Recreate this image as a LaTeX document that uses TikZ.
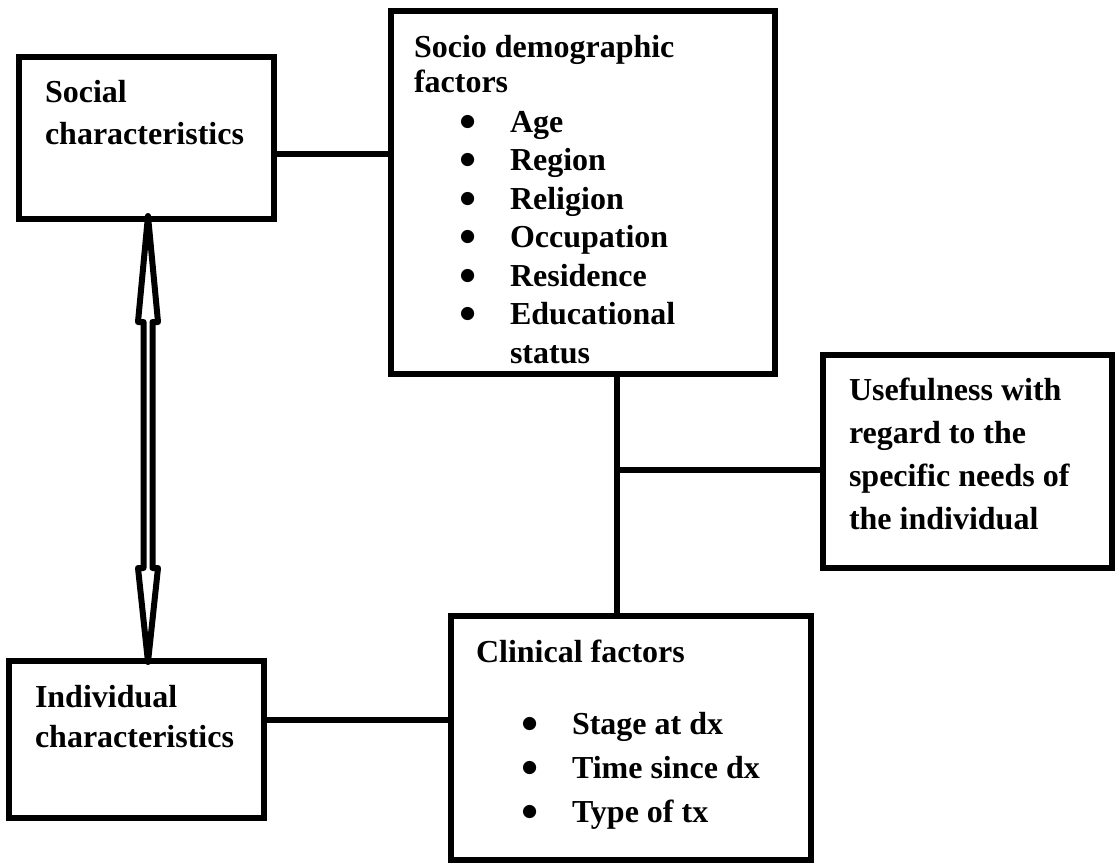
\documentclass[tikz,border=0pt]{standalone}
\usepackage{fontspec}
\setmainfont{Liberation Serif}
\newfontfamily\dotfont{DejaVu Sans}
\usetikzlibrary{positioning, calc}

% bullet item: bullet hung in, text at a fixed indent
\newcommand{\itm}[1]{\makebox[72pt][l]{\hspace{34.5pt}\raisebox{4.5pt}{\dotfont\fontsize{13}{13}\selectfont ●}}#1}
% continuation line of an item: same indent, no bullet
\newcommand{\itmcont}[1]{\makebox[72pt][l]{}#1}

\begin{document}
\begin{tikzpicture}[
            x = 0.75pt, y = -0.75pt, % one unit = one pixel of the sketch
            line width = 4.5pt, % heavy outlines
        ]
\tikzstyle{box}=[
            shape = rectangle,
            draw = black,
            fill = white,
            inner sep = 0pt,
            outer sep = 0pt
        ]
\tikzstyle{txt}=[
            anchor = north west,
            align = left,
            inner xsep = 17.25pt,
            inner ysep = 15pt,
            font = \bfseries\fontsize{24}{31.5}\selectfont
        ]
\tikzstyle{dblarrow}=[
            draw = black,
            line width = 4.5pt,
            line join = round
        ]
\useasboundingbox (0,0) rectangle (1116,863);
\node[box, minimum width=191.25pt, minimum height=121.5pt,
      label={[txt]north west:{Social\\characteristics}}] (social) at (146.5,138) {};
\node[box, minimum width=288pt, minimum height=272.25pt,
      label={[txt, inner xsep=15pt, inner ysep=15.75pt, font=\bfseries\fontsize{24}{28.9}\selectfont]north west:{Socio demographic\\[-2.6pt]factors\\[1.1pt]\itm{Age}\\\itm{Region}\\\itm{Religion}\\\itm{Occupation}\\\itm{Residence}\\\itm{Educational}\\\itmcont{status}}}] (socio) at (583,192.5) {};
\node[box, minimum width=216.75pt, minimum height=159.75pt,
      label={[txt, font=\bfseries\fontsize{24}{32.25}\selectfont]north west:{Usefulness with\\regard to the\\specific needs of\\the individual}}] (useful) at (967.5,461.5) {};
\node[box, minimum width=191.25pt, minimum height=117.75pt,
      label={[txt, inner ysep=15.75pt, font=\bfseries\fontsize{24}{30}\selectfont]north west:{Individual\\characteristics}}] (indiv) at (136.5,739.5) {};
\node[box, minimum width=270pt, minimum height=183pt,
      label={[txt, inner xsep=16.5pt, inner ysep=16pt, font=\bfseries\fontsize{24}{33}\selectfont]north west:{Clinical factors\\[21pt]\itm{Stage at dx}\\\itm{Time since dx}\\\itm{Type of tx}}}] (clin) at (631,738) {};
% connectors
\coordinate (a) at (0,154);
\coordinate (b) at (0,720);
\coordinate (j) at (617,470);
\draw (social.east |- a) -- (socio.west |- a);
\draw (indiv.east |- b) -- (clin.west |- b);
\draw (j |- socio.south) -- (j |- clin.north);
\draw (j) -- (j -| useful.west);
% open double arrow between the two characteristics boxes
\coordinate (tup) at ($(social.south)+(1.5,-3)$);
\coordinate (tdn) at ($(social.south |- indiv.north)+(1.5,1)$);
\draw[dblarrow] (tup) -- ++(10,106) -- ++(-5.5,0) -- ($(tdn)+(4.5,-94)$)
      -- ++(5.5,0) -- (tdn) -- ++(-10,-94) -- ++(5.5,0)
      -- ($(tup)+(-4.5,106)$) -- ++(-5.5,0) -- cycle;
\end{tikzpicture}
\end{document}
